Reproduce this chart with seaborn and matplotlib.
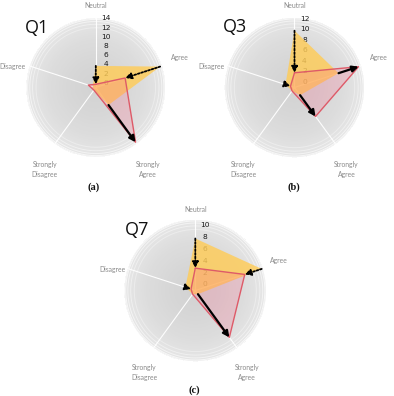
import numpy as np
import matplotlib
matplotlib.use("Agg")
import matplotlib.pyplot as plt
import matplotlib.transforms as mtransforms
from matplotlib.colors import LinearSegmentedColormap
import seaborn as sns

# ---------------- data ----------------
categories = ["Neutral", "Agree", "Strongly\nAgree", "Strongly\nDisagree", "Disagree"]
q1_before = [4, 14, 4, 0, 0]
q1_after = [0, 6, 14, 0, 1]
q3_before = [10, 8, 1, 0, 1]
q3_after = [2, 12, 6, 0, 0]
q7_before = [8, 11, 0, 0, 1]
q7_after = [3, 8, 9, 0, 0]
q1_ticks = [0, 2, 4, 6, 8, 10, 12, 14]
q3_ticks = [0, 2, 4, 6, 8, 10, 12]
q7_ticks = [0, 2, 4, 6, 8, 10]
titles = ["Q1", "Q3", "Q7"]
captions = ["(a)", "(b)", "(c)"]

# ---------------- style ----------------
sns.set_theme(style="white")
plt.rcParams["font.family"] = ["Lato", "DejaVu Sans"]

W, H = 394, 396
fig = plt.figure(figsize=(W / 100, H / 100), dpi=100)
fig.patch.set_facecolor("white")

YELLOW = (1.0, 0.80, 0.34, 0.82)
PINK_FILL = (1.0, 0.39, 0.52, 0.22)
RED_LINE = "#de5a68"
disc_cmap = LinearSegmentedColormap.from_list(
    "disc", ["#d2d2d2", "#d6d6d6", "#dcdcdc", "#e6e6e6"])

panels = [
    dict(before=q1_before, after=q1_after, ticks=q1_ticks, title=titles[0],
         caption=captions[0], cx=95.8, cy=87.5, R=69.5, rmin=-0.7, rmax=14.4,
         title_xy=(25, 33), cap_xy=(94, 187)),
    dict(before=q3_before, after=q3_after, ticks=q3_ticks, title=titles[1],
         caption=captions[1], cx=294.5, cy=87.5, R=70, rmin=-0.8, rmax=12.5,
         title_xy=(223, 32), cap_xy=(294, 187)),
    dict(before=q7_before, after=q7_after, ticks=q7_ticks, title=titles[2],
         caption=captions[2], cx=195.3, cy=290.5, R=71, rmin=-0.76, rmax=11.2,
         title_xy=(125, 235), cap_xy=(194.5, 390)),
]

# label offsets from centre in pixels (x right, y down)
label_offsets = [(0, -81.5), (84, -30), (52, 82), (-51, 82), (-83, -21)]

n = len(categories)
angles = np.arange(n) * 2 * np.pi / n

for p in panels:
    cx, cy, R = p["cx"], p["cy"], p["R"]
    ax = fig.add_axes([(cx - R) / W, 1 - (cy + R) / H, 2 * R / W, 2 * R / H],
                      projection="polar")
    ax.set_theta_zero_location("N")
    ax.set_theta_direction(-1)
    ax.set_rlim(p["rmin"], p["rmax"])
    ax.set_facecolor("none")
    ax.grid(False)
    ax.set_xticks([])
    ax.set_yticks([])
    ax.spines["polar"].set_visible(False)

    rmin, rmax = p["rmin"], p["rmax"]
    # background disc with radial gradient
    th = np.linspace(0, 2 * np.pi, 181)
    rr = np.linspace(rmin, rmax, 80)
    TH, RR = np.meshgrid(th, rr)
    C = (RR[:-1, :-1] - rmin) / (rmax - rmin)
    ax.pcolormesh(TH, RR, C, cmap=disc_cmap, shading="flat", zorder=0,
                  vmin=0, vmax=1, rasterized=True)
    # light rings near the rim
    span = rmax - rmin
    for f, a in [(0.86, 0.35), (0.91, 0.45), (0.95, 0.55), (0.98, 0.7), (0.998, 0.9)]:
        ax.plot(th, np.full_like(th, rmin + f * span), color="white", lw=0.7,
                alpha=a, zorder=0.5)
    # spokes
    for a in angles:
        ax.plot([a, a], [rmin, rmax], color="white", lw=0.8, alpha=0.95, zorder=0.6)

    # radial tick labels (under the fills)
    offs = mtransforms.ScaledTranslation(10 / 100, 1.5 / 100, fig.dpi_scale_trans)
    for t in p["ticks"]:
        ax.text(0, t, str(t), transform=ax.transData + offs, ha="center",
                va="center", fontsize=5.4, color="#1a1a1a", zorder=0.8,
                family=["DejaVu Sans"])

    closed = np.concatenate([angles, angles[:1]])
    b = np.array(p["before"] + p["before"][:1], dtype=float)
    a_ = np.array(p["after"] + p["after"][:1], dtype=float)
    ax.fill(closed, b, color=YELLOW, lw=0, zorder=1)
    ax.fill(closed, a_, color=PINK_FILL, lw=0, zorder=2)
    ax.plot(closed, a_, color=RED_LINE, lw=1.0, zorder=3)

    # change arrows
    for ang, v0, v1 in zip(angles, p["before"], p["after"]):
        d = v1 - v0
        if d == 0 or (0 < d < 2):
            continue
        ls = "-" if d > 0 else (0, (1, 1))
        lw = 1.6 if d > 0 else 1.3
        ax.annotate("", xy=(ang, v1), xytext=(ang, v0), zorder=4,
                    arrowprops=dict(arrowstyle="-|>,head_length=0.6,head_width=0.3",
                                    color="black", lw=lw, linestyle=ls,
                                    mutation_scale=6, shrinkA=0, shrinkB=0))

    # category labels
    for lab, (dx, dy) in zip(categories, label_offsets):
        ax.text(0.5 + dx / (2 * R), 0.5 - dy / (2 * R), lab, transform=ax.transAxes,
                ha="center", va="center", fontsize=4.9, color="#8a8a8a",
                linespacing=1.45, clip_on=False)

    fig.text(p["title_xy"][0] / W, 1 - p["title_xy"][1] / H, p["title"],
             ha="left", va="baseline", fontsize=13, color="#111111",
             family=["Open Sans", "DejaVu Sans"])
    fig.text(p["cap_xy"][0] / W, 1 - p["cap_xy"][1] / H, p["caption"],
             ha="center", va="center", fontsize=7.5, color="#111111",
             family=["Liberation Serif", "DejaVu Serif"], fontweight="bold")

fig.savefig("out.png", dpi=100, facecolor="white")
